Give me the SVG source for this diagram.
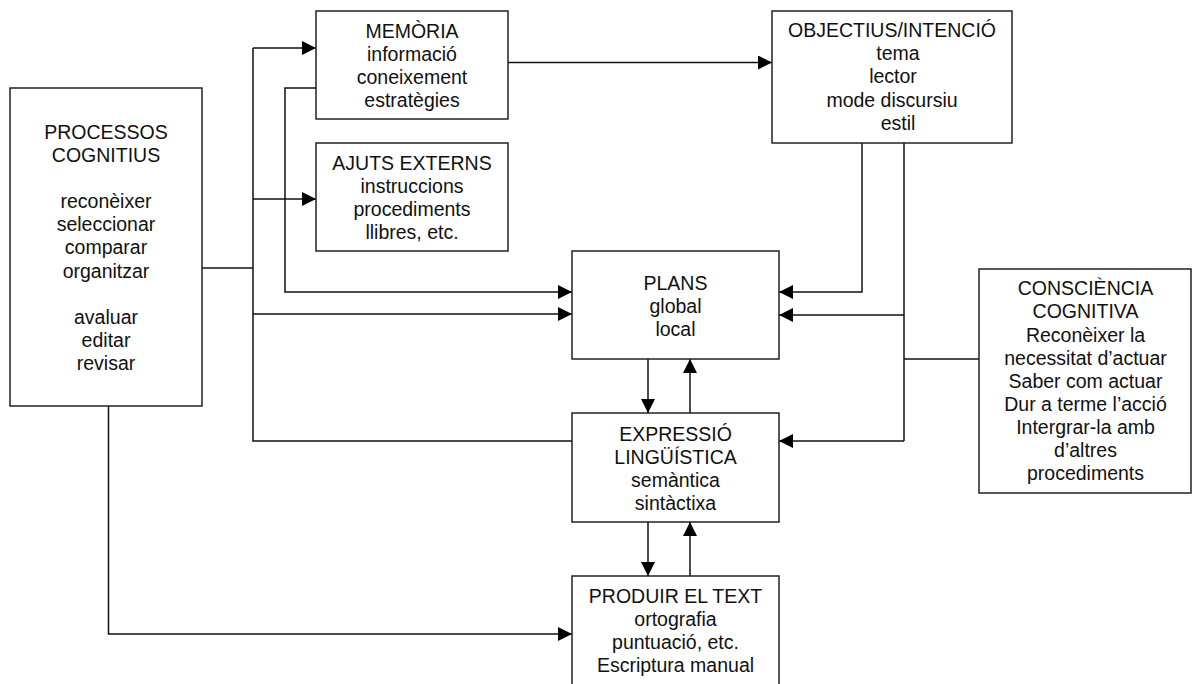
<svg xmlns="http://www.w3.org/2000/svg" width="1192" height="684" viewBox="0 0 1192 684">
<style>
.box{fill:#fff;stroke:#222;stroke-width:1.5}
.t{font-family:"Liberation Sans",Arial,sans-serif;font-size:19.5px;fill:#111;text-anchor:middle}
.c{fill:none;stroke:#111;stroke-width:1.5}
</style>
<defs>
<marker id="ah" markerUnits="userSpaceOnUse" markerWidth="14" markerHeight="14" refX="14" refY="7" orient="auto">
<path d="M0,0 L14,7 L0,14 Z" fill="#000"/>
</marker>
</defs>
<rect width="1192" height="684" fill="#fff"/>
<g id="connectors">
<path class="c" d="M202,268 H253"/>
<path class="c" d="M253,48 V441 H572"/>
<path class="c" d="M253,48 H316" marker-end="url(#ah)"/>
<path class="c" d="M253,199 H316" marker-end="url(#ah)"/>
<path class="c" d="M316,88 H285 V292 H572" marker-end="url(#ah)"/>
<path class="c" d="M253,314 H572" marker-end="url(#ah)"/>
<path class="c" d="M508,62.5 H772" marker-end="url(#ah)"/>
<path class="c" d="M862,143 V292 H779" marker-end="url(#ah)"/>
<path class="c" d="M904,143 V441"/>
<path class="c" d="M904,315 H779" marker-end="url(#ah)"/>
<path class="c" d="M904,441 H779" marker-end="url(#ah)"/>
<path class="c" d="M979,359 H904"/>
<path class="c" d="M648,359 V413" marker-end="url(#ah)"/>
<path class="c" d="M690,413 V359" marker-end="url(#ah)"/>
<path class="c" d="M648,522 V576" marker-end="url(#ah)"/>
<path class="c" d="M690,576 V522" marker-end="url(#ah)"/>
<path class="c" d="M108.5,406 V634 H572" marker-end="url(#ah)"/>
</g>
<g id="processos">
<rect class="box" x="10" y="88" width="192" height="318"/>
<text class="t" x="106" y="138.5">PROCESSOS</text>
<text class="t" x="106" y="161.5">COGNITIUS</text>
<text class="t" x="106" y="208">reconèixer</text>
<text class="t" x="106" y="231.2">seleccionar</text>
<text class="t" x="106" y="254.4">comparar</text>
<text class="t" x="106" y="277.6">organitzar</text>
<text class="t" x="106" y="324">avaluar</text>
<text class="t" x="106" y="347.2">editar</text>
<text class="t" x="106" y="370.4">revisar</text>
</g>
<g id="memoria">
<rect class="box" x="316" y="11" width="192" height="108"/>
<text class="t" x="412" y="38.3">MEMÒRIA</text>
<text class="t" x="412" y="61.3">informació</text>
<text class="t" x="412" y="84.3">coneixement</text>
<text class="t" x="412" y="107.3">estratègies</text>
</g>
<g id="ajuts">
<rect class="box" x="316" y="143" width="192" height="108"/>
<text class="t" x="412" y="170">AJUTS EXTERNS</text>
<text class="t" x="412" y="193">instruccions</text>
<text class="t" x="412" y="216">procediments</text>
<text class="t" x="412" y="239.3">llibres, etc.</text>
</g>
<g id="objectius">
<rect class="box" x="772" y="11" width="240" height="132"/>
<text class="t" x="892" y="36.7">OBJECTIUS/INTENCIÓ</text>
<text class="t" x="898" y="60">tema</text>
<text class="t" x="893" y="83.3">lector</text>
<text class="t" x="892" y="106.7">mode discursiu</text>
<text class="t" x="898" y="130">estil</text>
</g>
<g id="plans">
<rect class="box" x="572" y="251" width="207" height="108"/>
<text class="t" x="675.5" y="289.5">PLANS</text>
<text class="t" x="675.5" y="313">global</text>
<text class="t" x="675.5" y="336">local</text>
</g>
<g id="expressio">
<rect class="box" x="572" y="413" width="207" height="109"/>
<text class="t" x="675.5" y="440.7">EXPRESSIÓ</text>
<text class="t" x="675.5" y="463.5">LINGÜÍSTICA</text>
<text class="t" x="675.5" y="486.7">semàntica</text>
<text class="t" x="675.5" y="510">sintàctixa</text>
</g>
<g id="produir">
<rect class="box" x="572" y="576" width="207" height="120"/>
<text class="t" x="675.5" y="602.7">PRODUIR EL TEXT</text>
<text class="t" x="675.5" y="625.5">ortografia</text>
<text class="t" x="675.5" y="648.5">puntuació, etc.</text>
<text class="t" x="675.5" y="671.7">Escriptura manual</text>
</g>
<g id="consciencia">
<rect class="box" x="979" y="269" width="212" height="224"/>
<text class="t" x="1085.5" y="295">CONSCIÈNCIA</text>
<text class="t" x="1085.5" y="318.3">COGNITIVA</text>
<text class="t" x="1085.5" y="341.6">Reconèixer la</text>
<text class="t" x="1085.5" y="364.9">necessitat d’actuar</text>
<text class="t" x="1085.5" y="388">Saber com actuar</text>
<text class="t" x="1085.5" y="411.2">Dur a terme l’acció</text>
<text class="t" x="1085.5" y="434.4">Intergrar-la amb</text>
<text class="t" x="1085.5" y="457.4">d’altres</text>
<text class="t" x="1085.5" y="480.4">procediments</text>
</g>
</svg>
